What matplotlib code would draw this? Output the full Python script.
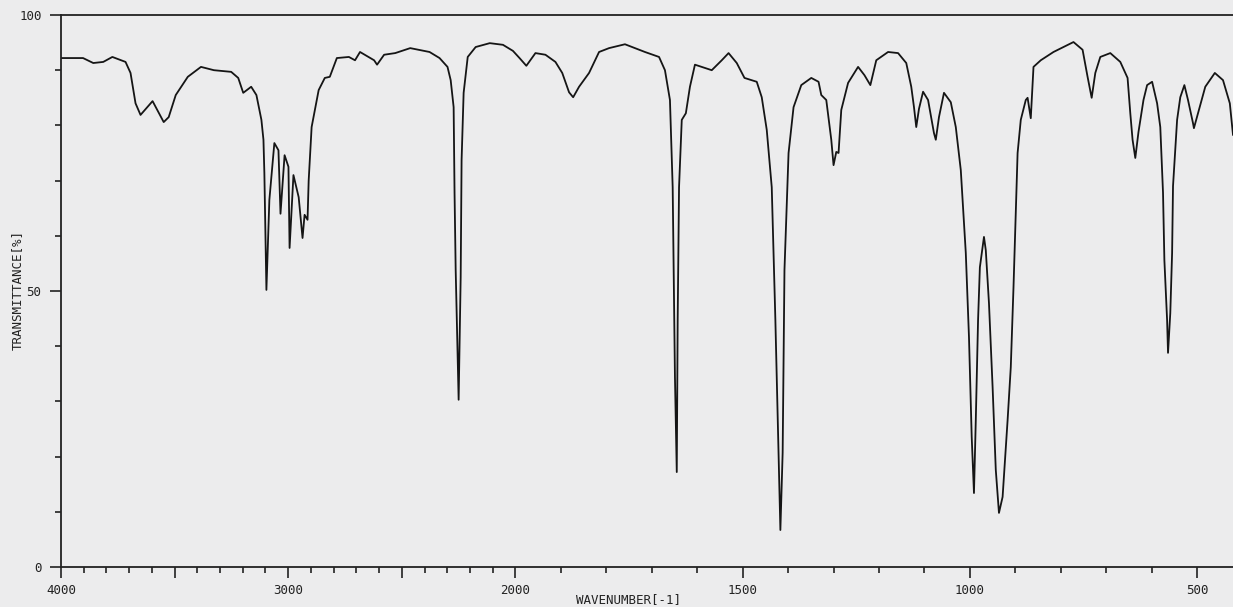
import numpy as np
import matplotlib
matplotlib.use("Agg")
import matplotlib.pyplot as plt
from matplotlib.ticker import FixedLocator, FixedFormatter

# IR spectrum (wavenumber in cm-1, transmittance in %)
wavenumber = [
    4000, 3903, 3858, 3814, 3774, 3716, 3694, 3672, 3650, 3597, 3548, 3526,
    3495, 3442, 3384, 3327, 3251, 3220, 3198, 3163, 3140, 3118, 3109, 3105,
    3096, 3083, 3061, 3043, 3034, 3016, 2999, 2994, 2977, 2954, 2937, 2928,
    2915, 2910, 2897, 2866, 2839, 2817, 2786, 2733, 2706, 2684, 2622, 2609,
    2578, 2529, 2463, 2378, 2334, 2299, 2285, 2272, 2268, 2263, 2250, 2241,
    2237, 2228, 2210, 2175, 2113, 2055, 2011,
    1991, 1976, 1956, 1934, 1912, 1897, 1882, 1873, 1860, 1838, 1816, 1794,
    1759, 1737, 1715, 1684, 1671, 1660, 1654, 1649, 1645, 1643, 1640, 1634,
    1625, 1616, 1605, 1568, 1546, 1531, 1513, 1496, 1469, 1458, 1447, 1436,
    1428, 1421, 1417, 1412, 1408, 1399, 1388, 1371, 1349, 1333, 1327, 1316,
    1305, 1300, 1294, 1289, 1283, 1268, 1246, 1232, 1219, 1206, 1180, 1158,
    1140, 1129, 1123, 1118, 1112, 1103, 1092, 1079, 1075, 1068, 1057, 1042,
    1031, 1020, 1009, 1002, 996, 991, 987, 982, 978, 969, 965, 958, 950,
    943, 936, 928, 917, 910, 904, 895, 888, 877, 873, 866, 862, 860, 844,
    816, 794, 772, 752, 741, 732, 724, 713, 691, 669, 653, 647, 642, 636,
    629, 618, 610, 599, 588, 581, 575, 572, 566, 564, 559, 555, 553, 544,
    537, 528, 520, 509, 507, 498, 482, 461, 443, 428, 421,
]
transmittance = [
    92.2, 92.2, 91.3, 91.5, 92.4, 91.5, 89.5, 84.0, 81.9, 84.4, 80.6, 81.5,
    85.5, 88.8, 90.6, 90.0, 89.7, 88.6, 85.9, 87.0, 85.5, 81.0, 77.4, 71.4,
    50.2, 66.5, 76.8, 75.5, 64.0, 74.6, 72.5, 57.8, 71.0, 67.0, 59.6, 63.8,
    62.9, 70.0, 79.7, 86.4, 88.6, 88.8, 92.2, 92.4, 91.8, 93.3, 91.8, 91.0,
    92.8, 93.1, 94.0, 93.3, 92.2, 90.6, 88.2, 83.3, 67.8, 53.8, 30.3, 52.5,
    73.7, 85.9, 92.4, 94.2, 94.9, 94.6, 93.5,
    92.2, 90.8, 93.1, 92.8, 91.5, 89.5, 86.0, 85.1, 87.0, 89.5, 93.3, 94.0,
    94.7, 94.0, 93.3, 92.4, 90.0, 84.6, 68.8, 34.4, 17.2, 44.7, 68.8, 81.0,
    82.2, 87.0, 91.0, 90.0, 91.8, 93.1, 91.3, 88.6, 87.9, 85.1, 79.2, 68.8,
    44.7, 20.7, 6.7, 20.7, 53.8, 75.0, 83.3, 87.3, 88.6, 87.9, 85.5, 84.6,
    77.4, 72.8, 75.2, 75.0, 82.8, 87.7, 90.6, 89.1, 87.3, 91.8, 93.3, 93.1,
    91.3, 87.0, 83.3, 79.7, 83.0, 86.1, 84.6, 78.6, 77.4, 81.5, 85.9, 84.2,
    79.7, 71.9, 56.9, 41.7, 23.6, 13.4, 26.6, 44.7, 54.3, 59.8, 57.4, 47.8, 32.6,
    17.6, 9.8, 12.7, 26.6, 36.2, 50.7, 75.0, 81.0, 84.6, 85.0, 81.3, 87.7, 90.6, 91.8,
    93.3, 94.2, 95.1, 93.7, 88.8, 85.0, 89.5, 92.4, 93.1, 91.5, 88.6, 82.2, 77.4, 74.1,
    78.8, 84.6, 87.3, 87.9, 84.0, 79.7, 67.8, 55.6, 44.7, 38.8, 46.0, 56.9, 69.0, 81.0,
    85.1, 87.3, 84.6, 80.4, 79.5, 82.2, 87.0, 89.5, 88.2, 84.0, 78.3,
]

x_labelled = [4000, 3000, 2000, 1500, 1000, 500]
x_major = [4000, 3500, 3000, 2500, 2000, 1500, 1000, 500]
y_major = [0, 50, 100]


# the instrument doubles the scale below 2000 cm-1
def fwd(w):
    w = np.asarray(w, dtype=float)
    return np.where(w >= 2000, w, 2 * w - 2000)


def inv(v):
    v = np.asarray(v, dtype=float)
    return np.where(v >= 2000, v, (v + 2000) / 2)


bg = "#ececed"
fig = plt.figure(figsize=(12.33, 6.07), dpi=100, facecolor=bg)
ax = fig.add_axes([61 / 1233, 40 / 607, 1 - 61 / 1233, 552 / 607])
ax.set_facecolor(bg)

ax.plot(wavenumber, transmittance, color="#151515", lw=1.3)

ax.set_xscale("function", functions=(fwd, inv))
ax.set_xlim(4000, 421)
ax.set_ylim(0, 100)

font = dict(family="DejaVu Sans Mono", size=9, color="#222222")

ax.xaxis.set_major_locator(FixedLocator(x_major))
ax.xaxis.set_major_formatter(FixedFormatter(
    [str(v) if v in x_labelled else "" for v in x_major]))
ax.xaxis.set_minor_locator(FixedLocator(
    [v for v in range(4000, 421, -100) if v not in x_major]))
ax.yaxis.set_major_locator(FixedLocator(y_major))
ax.yaxis.set_major_formatter(FixedFormatter([str(v) for v in y_major]))
ax.yaxis.set_minor_locator(FixedLocator(range(10, 100, 10)))

ax.tick_params(which="major", length=8, width=1.2, color="#222222", pad=4)
ax.tick_params(which="minor", length=4, width=1.2, color="#222222")
ax.tick_params(axis="y", which="major", pad=6)
for lab in ax.get_xticklabels() + ax.get_yticklabels():
    lab.set_fontfamily("DejaVu Sans Mono")
    lab.set_fontsize(9)
    lab.set_color("#222222")

for s in ["left", "bottom", "top"]:
    ax.spines[s].set_linewidth(1.3)
    ax.spines[s].set_color("#222222")
ax.spines["right"].set_visible(False)

ax.set_xlabel("WAVENUMBER[-1]", va="center", **font)
ax.xaxis.set_label_coords((629 - 61) / 1172, (567 - 600) / 552)
ax.set_ylabel("TRANSMITTANCE[%]", va="center", **font)
ax.yaxis.set_label_coords((17 - 61) / 1172, (567 - 290) / 552)

plt.savefig("out.png", dpi=100, facecolor=bg)
